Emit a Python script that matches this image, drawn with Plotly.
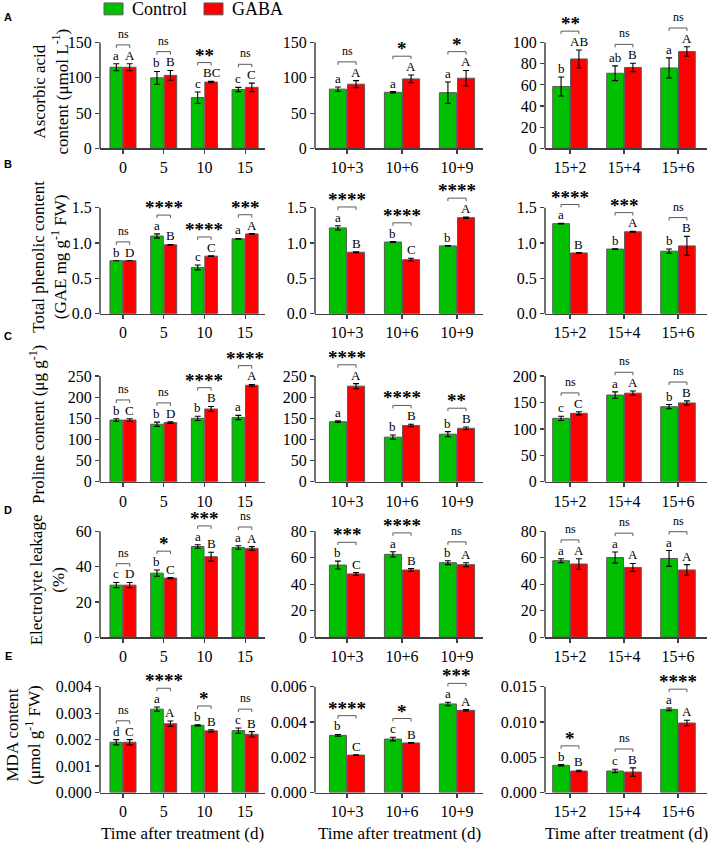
import plotly.graph_objects as go

W, H = 708, 851

# ---------------- data ----------------
cats_early = ["0", "5", "10", "15"]
cats_mid = ["10+3", "10+6", "10+9"]
cats_late = ["15+2", "15+4", "15+6"]

# Row A: Ascorbic acid content
A1_ctrl = [115, 100, 72, 83.5]
A1_ctrl_err = [5, 9, 8, 3]
A1_gaba = [115, 103.5, 94, 86.5]
A1_gaba_err = [5, 7, 1, 6]
A1_ctrl_let = ["a", "b", "c", "c"]
A1_gaba_let = ["A", "B", "BC", "C"]
A1_sig = ["ns", "ns", "**", "ns"]

A2_ctrl = [84, 79.5, 79]
A2_ctrl_err = [3, 1, 15]
A2_gaba = [91, 98.5, 99.5]
A2_gaba_err = [5, 5.5, 11]
A2_ctrl_let = ["a", "a", "a"]
A2_gaba_let = ["A", "A", "A"]
A2_sig = ["ns", "*", "*"]

A3_ctrl = [58.5, 71, 76]
A3_ctrl_err = [9, 7, 9.5]
A3_gaba = [84.5, 76.5, 91.5]
A3_gaba_err = [8.5, 4, 4.5]
A3_ctrl_let = ["b", "ab", "a"]
A3_gaba_let = ["AB", "B", "A"]
A3_sig = ["**", "ns", "ns"]

# Row B: Total phenolic content
B1_ctrl = [0.75, 1.10, 0.655, 1.06]
B1_ctrl_err = [0.0, 0.03, 0.035, 0.005]
B1_gaba = [0.75, 0.975, 0.815, 1.13]
B1_gaba_err = [0.0, 0.005, 0.005, 0.005]
B1_ctrl_let = ["b", "a", "c", "a"]
B1_gaba_let = ["D", "B", "C", "A"]
B1_sig = ["ns", "****", "****", "***"]

B2_ctrl = [1.215, 1.015, 0.96]
B2_ctrl_err = [0.03, 0.005, 0.005]
B2_gaba = [0.87, 0.765, 1.36]
B2_gaba_err = [0.005, 0.02, 0.01]
B2_ctrl_let = ["a", "b", "b"]
B2_gaba_let = ["B", "C", "A"]
B2_sig = ["****", "****", "****"]

B3_ctrl = [1.275, 0.915, 0.885]
B3_ctrl_err = [0.005, 0.005, 0.03]
B3_gaba = [0.86, 1.16, 0.96]
B3_gaba_err = [0.005, 0.005, 0.135]
B3_ctrl_let = ["a", "b", "b"]
B3_gaba_let = ["B", "A", "B"]
B3_sig = ["****", "***", "ns"]

# Row C: Proline content
C1_ctrl = [146, 136, 150, 152]
C1_ctrl_err = [3, 5, 5, 5]
C1_gaba = [146, 140, 172, 228]
C1_gaba_err = [3, 2, 6, 2]
C1_ctrl_let = ["b", "b", "b", "a"]
C1_gaba_let = ["C", "D", "B", "A"]
C1_sig = ["ns", "ns", "****", "****"]

C2_ctrl = [142, 105.5, 112.5]
C2_ctrl_err = [2, 5, 6]
C2_gaba = [226, 133, 126.5]
C2_gaba_err = [6, 3, 3]
C2_ctrl_let = ["a", "b", "b"]
C2_gaba_let = ["A", "B", "B"]
C2_sig = ["****", "****", "**"]

C3_ctrl = [120, 164, 142]
C3_ctrl_err = [4, 6, 4]
C3_gaba = [129.5, 167.5, 149]
C3_gaba_err = [3, 4, 4]
C3_ctrl_let = ["c", "a", "b"]
C3_gaba_let = ["C", "A", "B"]
C3_sig = ["ns", "ns", "ns"]

# Row D: Electrolyte leakage
D1_ctrl = [29.5, 36.3, 51.4, 50.8]
D1_ctrl_err = [1.5, 1.8, 1, 1]
D1_gaba = [29.5, 33.5, 45.6, 50.3]
D1_gaba_err = [1.5, 0.3, 2.5, 1]
D1_ctrl_let = ["c", "b", "a", "a"]
D1_gaba_let = ["D", "C", "B", "A"]
D1_sig = ["ns", "*", "***", "ns"]

D2_ctrl = [54.5, 62.6, 56.3]
D2_ctrl_err = [3, 2, 1.5]
D2_gaba = [47.8, 50.8, 54.8]
D2_gaba_err = [1, 1, 1.5]
D2_ctrl_let = ["b", "a", "b"]
D2_gaba_let = ["C", "B", "A"]
D2_sig = ["***", "****", "ns"]

D3_ctrl = [57.8, 60.2, 59.5]
D3_ctrl_err = [1.5, 4.2, 6]
D3_gaba = [55.3, 52.7, 50.8]
D3_gaba_err = [4, 3, 4]
D3_ctrl_let = ["a", "a", "a"]
D3_gaba_let = ["A", "A", "A"]
D3_sig = ["ns", "ns", "ns"]

# Row E: MDA content
E1_ctrl = [0.0019, 0.00315, 0.00254, 0.00234]
E1_ctrl_err = [0.0001, 0.00008, 0.00002, 0.0001]
E1_gaba = [0.0019, 0.0026, 0.00233, 0.0022]
E1_gaba_err = [0.0001, 0.0001, 0.00004, 0.0001]
E1_ctrl_let = ["d", "a", "b", "c"]
E1_gaba_let = ["C", "A", "B", "B"]
E1_sig = ["ns", "****", "*", "ns"]

E2_ctrl = [0.00324, 0.00303, 0.00502]
E2_ctrl_err = [0.00005, 0.0001, 0.0001]
E2_gaba = [0.00212, 0.00281, 0.00466]
E2_gaba_err = [0.00002, 0.00002, 0.00004]
E2_ctrl_let = ["b", "c", "a"]
E2_gaba_let = ["C", "B", "A"]
E2_sig = ["****", "*", "***"]

E3_ctrl = [0.00385, 0.00305, 0.01178]
E3_ctrl_err = [0.0001, 0.00025, 0.0002]
E3_gaba = [0.00305, 0.0029, 0.00985]
E3_gaba_err = [0.0001, 0.0006, 0.0004]
E3_ctrl_let = ["b", "c", "a"]
E3_gaba_let = ["B", "B", "A"]
E3_sig = ["*", "ns", "****"]

y_titles = [
    "Ascorbic acid<br>content (μmol L<sup>-1</sup>)",
    "Total phenolic content<br>(GAE mg g<sup>-1</sup> FW)",
    "Proline content (μg g<sup>-1</sup>)",
    "Electrolyte leakage<br>(%)",
    "MDA content<br>(μmol g<sup>-1</sup> FW)",
]
panel_letters = ["A", "B", "C", "D", "E"]
x_title = "Time after treatment (d)"
legend_names = ["Control", "GABA"]

# y-axis scales per panel: (max tick, step, format)
y_scales = [
    [(150, 50, "{:.0f}"), (150, 50, "{:.0f}"), (100, 20, "{:.0f}")],
    [(1.5, 0.5, "{:.1f}"), (1.5, 0.5, "{:.1f}"), (1.5, 0.5, "{:.1f}")],
    [(250, 50, "{:.0f}"), (250, 50, "{:.0f}"), (200, 50, "{:.0f}")],
    [(60, 20, "{:.0f}"), (80, 20, "{:.0f}"), (80, 20, "{:.0f}")],
    [(0.004, 0.001, "{:.3f}"), (0.006, 0.002, "{:.3f}"), (0.015, 0.005, "{:.3f}")],
]

panels = [
    [(cats_early, A1_ctrl, A1_ctrl_err, A1_gaba, A1_gaba_err, A1_ctrl_let, A1_gaba_let, A1_sig),
     (cats_mid, A2_ctrl, A2_ctrl_err, A2_gaba, A2_gaba_err, A2_ctrl_let, A2_gaba_let, A2_sig),
     (cats_late, A3_ctrl, A3_ctrl_err, A3_gaba, A3_gaba_err, A3_ctrl_let, A3_gaba_let, A3_sig)],
    [(cats_early, B1_ctrl, B1_ctrl_err, B1_gaba, B1_gaba_err, B1_ctrl_let, B1_gaba_let, B1_sig),
     (cats_mid, B2_ctrl, B2_ctrl_err, B2_gaba, B2_gaba_err, B2_ctrl_let, B2_gaba_let, B2_sig),
     (cats_late, B3_ctrl, B3_ctrl_err, B3_gaba, B3_gaba_err, B3_ctrl_let, B3_gaba_let, B3_sig)],
    [(cats_early, C1_ctrl, C1_ctrl_err, C1_gaba, C1_gaba_err, C1_ctrl_let, C1_gaba_let, C1_sig),
     (cats_mid, C2_ctrl, C2_ctrl_err, C2_gaba, C2_gaba_err, C2_ctrl_let, C2_gaba_let, C2_sig),
     (cats_late, C3_ctrl, C3_ctrl_err, C3_gaba, C3_gaba_err, C3_ctrl_let, C3_gaba_let, C3_sig)],
    [(cats_early, D1_ctrl, D1_ctrl_err, D1_gaba, D1_gaba_err, D1_ctrl_let, D1_gaba_let, D1_sig),
     (cats_mid, D2_ctrl, D2_ctrl_err, D2_gaba, D2_gaba_err, D2_ctrl_let, D2_gaba_let, D2_sig),
     (cats_late, D3_ctrl, D3_ctrl_err, D3_gaba, D3_gaba_err, D3_ctrl_let, D3_gaba_let, D3_sig)],
    [(cats_early, E1_ctrl, E1_ctrl_err, E1_gaba, E1_gaba_err, E1_ctrl_let, E1_gaba_let, E1_sig),
     (cats_mid, E2_ctrl, E2_ctrl_err, E2_gaba, E2_gaba_err, E2_ctrl_let, E2_gaba_let, E2_sig),
     (cats_late, E3_ctrl, E3_ctrl_err, E3_gaba, E3_gaba_err, E3_ctrl_let, E3_gaba_let, E3_sig)],
]

# ---------------- styling / layout geometry ----------------
GREEN = "#00C000"
RED = "#FF0000"
OUTLINE = "#5a5a5a"
AXIS = "#404040"
SERIF = "Liberation Serif, Times New Roman, serif"

col_px = [(100, 265), (315, 483), (545, 707)]
x_ranges = [(-0.565, 3.489), (-0.582, 2.473), (-0.463, 2.537)]
row_base = [150, 317, 487, 644, 801]
tick_px = 107
ext_px = 35
BAR_W = 0.31
HALF = 0.165

def px(x):
    return x / W

def py(y):
    return 1 - y / H

fig = go.Figure()
layout = dict(
    width=W, height=H, margin=dict(l=0, r=0, t=0, b=0),
    paper_bgcolor="white", plot_bgcolor="white",
    barmode="overlay", showlegend=False,
    font=dict(family=SERIF, size=16, color="black"),
)
annotations = []
shapes = []

for r in range(5):
    yb = row_base[r]
    for c in range(3):
        k = r * 3 + c + 1
        sfx = "" if k == 1 else str(k)
        cats, g, ge, rd, rde, glet, rlet, sig = panels[r][c]
        ymax, dt, fmt = y_scales[r][c]
        yrange_top = ymax * (tick_px + ext_px) / tick_px
        s = ymax / tick_px  # data units per pixel
        xs = list(range(len(cats)))
        nt = int(round(ymax / dt))
        tv = [round(j * dt, 8) for j in range(nt + 1)]

        layout["xaxis" + sfx] = dict(
            domain=[px(col_px[c][0]), px(col_px[c][1])],
            range=list(x_ranges[c]), anchor="y" + sfx,
            tickmode="array", tickvals=xs, ticktext=cats,
            showline=True, linecolor=AXIS, linewidth=1.5,
            ticks="outside", ticklen=4, tickwidth=1.2, tickcolor=AXIS,
            showgrid=False, zeroline=False, fixedrange=True,
            tickfont=dict(family=SERIF, size=16, color="black"),
        )
        layout["yaxis" + sfx] = dict(
            domain=[py(yb), py(yb - tick_px - ext_px)],
            range=[0, yrange_top], anchor="x" + sfx,
            tickmode="array", tickvals=tv, ticktext=[fmt.format(v) for v in tv],
            showline=False, ticks="outside", ticklen=4, tickwidth=1.2, tickcolor=AXIS,
            showgrid=False, zeroline=False, fixedrange=True,
            tickfont=dict(family=SERIF, size=16, color="black"),
        )
        # y axis line only up to top tick
        shapes.append(dict(
            type="line", xref="x" + sfx + " domain", yref="y" + sfx + " domain",
            x0=0, x1=0, y0=0, y1=tick_px / (tick_px + ext_px),
            line=dict(color=AXIS, width=1.5),
        ))

        for vals, errs, col, off, nm in [(g, ge, GREEN, -HALF - BAR_W / 2, legend_names[0]),
                                         (rd, rde, RED, HALF - BAR_W / 2, legend_names[1])]:
            fig.add_trace(go.Bar(
                x=xs, y=vals, width=BAR_W, offset=off, name=nm,
                marker=dict(color=col, line=dict(color=OUTLINE, width=1)),
                error_y=dict(type="data", array=errs, visible=True,
                             color="black", thickness=1.1, width=3),
                xaxis="x" + sfx, yaxis="y" + sfx, hoverinfo="skip",
            ))

        for i in xs:
            tg = g[i] + ge[i]
            tr = rd[i] + rde[i]
            annotations.append(dict(
                x=i - HALF, y=tg, xref="x" + sfx, yref="y" + sfx, text=glet[i],
                showarrow=False, yanchor="bottom", yshift=-1,
                font=dict(family=SERIF, size=13, color="black"),
            ))
            annotations.append(dict(
                x=i + HALF, y=tr, xref="x" + sfx, yref="y" + sfx, text=rlet[i],
                showarrow=False, yanchor="bottom", yshift=-1,
                font=dict(family=SERIF, size=13, color="black"),
            ))
            ybr = max(tg, tr) + 19 * s
            fig.add_trace(go.Scatter(
                x=[i - HALF, i - HALF, i + HALF, i + HALF],
                y=[ybr - 3 * s, ybr, ybr, ybr - 3 * s],
                mode="lines", line=dict(color=OUTLINE, width=1),
                xaxis="x" + sfx, yaxis="y" + sfx, hoverinfo="skip", showlegend=False,
            ))
            if sig[i] == "ns":
                annotations.append(dict(
                    x=i, y=ybr, xref="x" + sfx, yref="y" + sfx, text="ns",
                    showarrow=False, yanchor="bottom", yshift=2,
                    font=dict(family=SERIF, size=12, color="black"),
                ))
            else:
                annotations.append(dict(
                    x=i, y=ybr, xref="x" + sfx, yref="y" + sfx, text="<b>" + sig[i] + "</b>",
                    showarrow=False, yanchor="bottom", yshift=-5,
                    font=dict(family=SERIF, size=19, color="black"),
                ))

# y-axis titles
title_x = [51, 50, 37, 47, 24]
for r in range(5):
    yc = row_base[r] - tick_px / 2 - 4
    annotations.append(dict(
        x=px(title_x[r]), y=py(yc), xref="paper", yref="paper", text=y_titles[r],
        showarrow=False, textangle=-90, xanchor="center", yanchor="middle",
        font=dict(family=SERIF, size=17, color="black"),
    ))

# panel letters
letter_y = [17, 166, 340, 515, 663]
for r in range(5):
    annotations.append(dict(
        x=px(8), y=py(letter_y[r]), xref="paper", yref="paper",
        text="<b>" + panel_letters[r] + "</b>", showarrow=False,
        xanchor="center", yanchor="middle",
        font=dict(family="Liberation Sans, Arial, sans-serif", size=11, color="black"),
    ))

# x-axis titles
for c in range(3):
    annotations.append(dict(
        x=px((col_px[c][0] + col_px[c][1]) / 2), y=py(842), xref="paper", yref="paper",
        text=x_title, showarrow=False, xanchor="center", yanchor="middle",
        font=dict(family=SERIF, size=17, color="black"),
    ))

# legend
for (bx, tx, col, nm) in [(104, 130, GREEN, legend_names[0]), (204, 230, RED, legend_names[1])]:
    shapes.append(dict(
        type="rect", xref="paper", yref="paper",
        x0=px(bx), x1=px(bx + 19), y0=py(15), y1=py(3),
        fillcolor=col, line=dict(color=OUTLINE, width=1),
    ))
    annotations.append(dict(
        x=px(tx), y=py(9), xref="paper", yref="paper", text=nm,
        showarrow=False, xanchor="left", yanchor="middle",
        font=dict(family=SERIF, size=18, color="black"),
    ))

layout["annotations"] = annotations
layout["shapes"] = shapes
fig.update_layout(**layout)
fig.write_html(
    "out.html",
    config={"displayModeBar": False, "staticPlot": True},
    post_script="document.body.style.margin='0px';document.body.style.overflow='hidden';",
)
